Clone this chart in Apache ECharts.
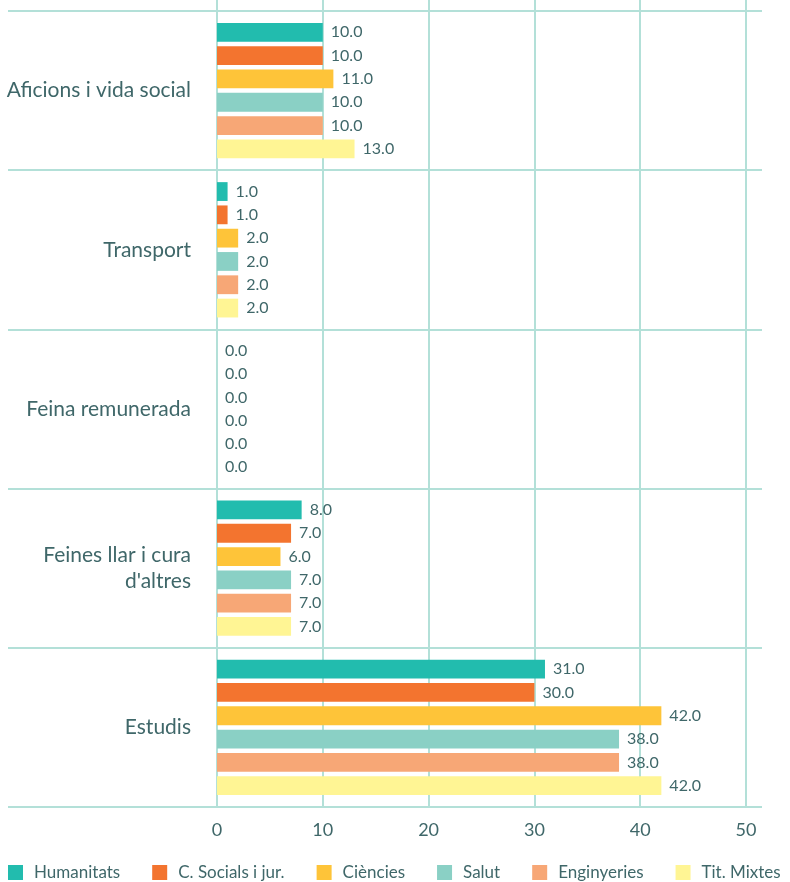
<!DOCTYPE html>
<html>
<head>
<meta charset="utf-8">
<script src="https://cdn.jsdelivr.net/npm/echarts@6/dist/echarts.min.js"></script>
<style>
  html, body { margin: 0; padding: 0; background: #fff; }
  #chart { width: 790px; height: 882px; }
</style>
</head>
<body>
<div id="chart"></div>
<script>
// categories, top to bottom
const categories = ['Aficions i vida social', 'Transport', 'Feina remunerada', 'Feines llar i cura\nd\'altres', 'Estudis']
const seriesNames = ['Humanitats', 'C. Socials i jur.', 'Ciències', 'Salut', 'Enginyeries', 'Tit. Mixtes']
const humanitats = [10, 1, 0, 8, 31]
const socials = [10, 1, 0, 7, 30]
const ciencies = [11, 2, 0, 6, 42]
const salut = [10, 2, 0, 7, 38]
const enginyeries = [10, 2, 0, 7, 38]
const mixtes = [13, 2, 0, 7, 42]
const xTicks = [0, 10, 20, 30, 40, 50]

const colors = ['#22bcae', '#f3742f', '#fec439', '#8ad0c5', '#f7a776', '#fff594']
const textColor = '#3f6769'
const lineColor = '#b3e0d8'
const font = 'Lato'

const values = [humanitats, socials, ciencies, salut, enginyeries, mixtes]

const chart = echarts.init(document.getElementById('chart'))

const series = seriesNames.map((name, i) => ({
  name: name,
  type: 'bar',
  xAxisIndex: 0,
  yAxisIndex: 0,
  data: values[i],
  itemStyle: { color: colors[i] },
  barCategoryGap: '15%',
  barGap: '24%',
  label: {
    show: true,
    position: 'right',
    distance: 8,
    formatter: p => p.value.toFixed(1),
    color: textColor,
    fontFamily: font,
    fontSize: 16
  }
}))

chart.setOption({
  animation: false,
  textStyle: { fontFamily: font },
  legend: {
    top: 859,
    left: 3,
    itemWidth: 15,
    itemHeight: 15,
    itemGap: 32,
    icon: 'rect',
    textStyle: { color: textColor, fontSize: 17, fontFamily: font, padding: [0, 0, 0, 6] },
    data: seriesNames
  },
  grid: [
    // bars
    { left: 217, right: 44, top: 11, bottom: 75, containLabel: false },
    // vertical split lines + tick labels
    { left: 217, right: 44, top: 0, bottom: 75, containLabel: false },
    // horizontal band lines
    { left: 8, right: 28, top: 11, bottom: 75, containLabel: false }
  ],
  xAxis: [
    { gridIndex: 0, type: 'value', min: 0, max: 50, interval: 10, show: false },
    {
      gridIndex: 1, type: 'value', min: xTicks[0], max: xTicks[xTicks.length - 1], interval: 10,
      axisLine: { show: false }, axisTick: { show: false },
      axisLabel: { color: textColor, fontSize: 18, fontFamily: font, margin: 14 },
      splitLine: { show: true, lineStyle: { color: lineColor, width: 2 } }
    },
    { gridIndex: 2, type: 'value', show: false }
  ],
  yAxis: [
    {
      gridIndex: 0, type: 'category', inverse: true, data: categories,
      axisLine: { show: false }, axisTick: { show: false },
      axisLabel: { color: textColor, fontSize: 21, fontFamily: font, margin: 26, align: 'right', lineHeight: 26 }
    },
    { gridIndex: 1, type: 'value', show: false, min: 0, max: 1 },
    {
      gridIndex: 2, type: 'category', inverse: true, data: categories,
      axisLine: { show: false }, axisTick: { show: false }, axisLabel: { show: false },
      splitLine: { show: true, lineStyle: { color: lineColor, width: 2 } }
    }
  ],
  series: series
})
</script>
</body>
</html>
